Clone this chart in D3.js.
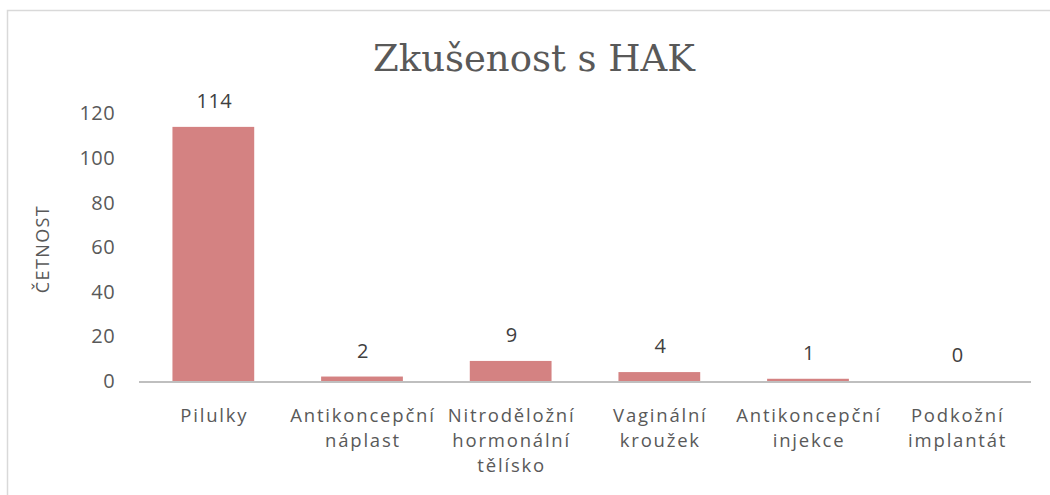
<!DOCTYPE html>
<html><head><meta charset="utf-8">
<script src="https://cdn.jsdelivr.net/npm/d3@7"></script>
<style>body{margin:0;background:#fff}svg text{font-family:"Open Sans",sans-serif;}</style>
</head><body>
<svg id="c" width="1050" height="495"></svg>
<script>
const categories = [["Pilulky"],["Antikoncepční","náplast"],["Nitroděložní","hormonální","tělísko"],["Vaginální","kroužek"],["Antikoncepční","injekce"],["Podkožní","implantát"]];
const values = [114, 2, 9, 4, 1, 0];
const yTicks = [0, 20, 40, 60, 80, 100, 120];

const svg = d3.select("#c");
svg.append("rect").attr("x",7.5).attr("y",10.5).attr("width",1100).attr("height",600)
  .attr("fill","#fff").attr("stroke","#d9d9d9").attr("stroke-width",1.5);

const x0 = 139, x1 = 1031, yBase = 381, yTop = 113.5;
const x = d3.scaleBand().domain(d3.range(categories.length)).range([x0,x1]).paddingInner(0.45).paddingOuter(0.225);
const y = d3.scaleLinear().domain([0,120]).range([yBase,yTop]);

svg.append("text").attr("x",534).attr("y",71).attr("text-anchor","middle")
  .style("font-family","'DejaVu Serif', serif").style("font-size","37px").attr("fill","#595959")
  .text("Zkušenost s HAK");

const yAxis = svg.append("g").attr("transform",`translate(${x0},0)`)
  .call(d3.axisLeft(y).tickValues(yTicks).tickSize(0).tickPadding(24));
yAxis.select(".domain").remove();
yAxis.selectAll("text").style("font-size","20px").style("letter-spacing","0.4px").attr("fill","#595959");

svg.append("text").attr("transform","translate(49,249) rotate(-90)").attr("text-anchor","middle")
  .style("font-size","18px").style("letter-spacing","1.4px").attr("fill","#595959").text("ČETNOST");

svg.selectAll(".bar").data(values).join("rect").attr("class","bar")
  .attr("x",(d,i)=>x(i)).attr("width",x.bandwidth())
  .attr("y",d=>y(d)).attr("height",d=>yBase-y(d)).attr("fill","#d48282");

svg.append("line").attr("x1",x0).attr("x2",x1).attr("y1",yBase+1).attr("y2",yBase+1)
  .attr("stroke","#bfbfbf").attr("stroke-width",2);

svg.selectAll(".lbl").data(values).join("text").attr("class","lbl")
  .attr("x",(d,i)=>x(i)+x.bandwidth()/2+1).attr("y",d=>y(d)-19)
  .attr("text-anchor","middle").style("font-size","20px").style("letter-spacing","0.4px").attr("fill","#404040").text(d=>d);

const xl = svg.selectAll(".cat").data(categories).join("text").attr("class","cat")
  .attr("text-anchor","middle").style("font-size","18.5px").style("letter-spacing","1.8px").attr("fill","#595959");
xl.each(function(lines,i){
  const t = d3.select(this);
  lines.forEach((l,j)=>t.append("tspan").attr("x",x(i)+x.bandwidth()/2+1).attr("y",422+j*25).text(l));
});
</script>
</body></html>
